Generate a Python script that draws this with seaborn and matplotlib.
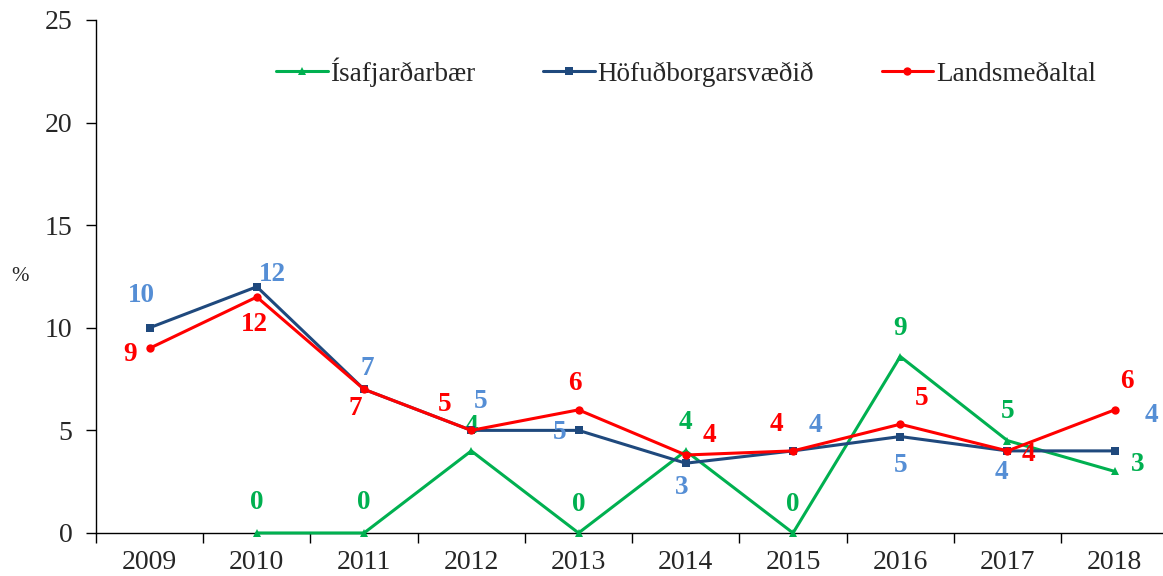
import numpy as np
import pandas as pd
import seaborn as sns
import matplotlib.pyplot as plt
from matplotlib.ticker import FixedLocator

# Gögn lesin af myndinni
years = ['2009', '2010', '2011', '2012', '2013', '2014', '2015', '2016', '2017', '2018']
isafjordur = [np.nan, 0, 0, 4.0, 0, 4.0, 0, 8.6, 4.5, 3.0]
hofudborg = [10.0, 12.0, 7.0, 5.0, 5.0, 3.4, 4.0, 4.7, 4.0, 4.0]
landsmedaltal = [9.0, 11.5, 7.0, 5.0, 6.0, 3.8, 4.0, 5.3, 4.0, 6.0]

isaf_labels = ['', '0', '0', '4', '0', '4', '0', '9', '5', '3']
hofud_labels = ['10', '12', '7', '5', '5', '3', '4', '5', '4', '4']
lands_labels = ['9', '12', '7', '5', '6', '4', '4', '5', '4', '6']

# hliðrun merkimiða í dílum (x, y upp)
isaf_off = [(0, 0), (0, 30), (0, 30), (0, 24), (0, 28), (0, 28), (0, 28), (0, 28), (0, 29), (23, 7)]
hofud_off = [(-8, 32), (16, 12), (3, 21), (9, 29), (-19, -2), (-4, -24), (22, 25), (0, -29), (-6, -22), (37, 35)]
lands_off = [(-20, -6), (-2, -28), (-9, -19), (-27, 26), (-4, 26), (24, 19), (-17, 26), (21, 26), (21, -4), (12, 28)]

sns.set_style("white")
plt.rcParams['font.family'] = ['Liberation Serif', 'DejaVu Serif']

fig = plt.figure(figsize=(11.63, 5.76), dpi=100)
ax = fig.add_axes([0.0825, 0.0747, 0.9175, 0.8906])

x = np.arange(len(years))
series = [
    ('Ísafjarðarbær', isafjordur, '#00B050', '^', isaf_labels, isaf_off, '#00B050'),
    ('Höfuðborgarsvæðið', hofudborg, '#1F497D', 's', hofud_labels, hofud_off, '#558ED5'),
    ('Landsmeðaltal', landsmedaltal, '#FF0000', 'o', lands_labels, lands_off, '#FF0000'),
]

for name, vals, col, mk, labs, offs, lcol in series:
    df = pd.DataFrame({'x': x, 'y': vals})
    sns.lineplot(data=df, x='x', y='y', ax=ax, color=col, marker=mk, markersize=6,
                 markeredgewidth=0, linewidth=2.2, label=name, clip_on=False, zorder=3)
    for xi, v, t, o in zip(x, vals, labs, offs):
        if t == '':
            continue
        ax.annotate(t, (xi, v), xytext=o, textcoords='offset pixels', ha='center', va='center',
                    color=lcol, fontsize=19.5, fontweight='bold')

ax.set_xlim(-0.5, 9.45)
ax.set_ylim(0, 25)
ax.set_yticks([0, 5, 10, 15, 20, 25])
ax.set_xticks(x)
ax.set_xticklabels(years)
ax.xaxis.set_minor_locator(FixedLocator(np.arange(-0.5, 9.6, 1)))
ax.tick_params(axis='x', which='major', length=0, pad=12, labelsize=20)
ax.tick_params(axis='x', which='minor', length=7, width=1, color='black', direction='out', bottom=True)
ax.tick_params(axis='y', length=7, width=1, color='black', direction='out', left=True, labelsize=20, pad=10)
ax.set_xlabel('')
ax.set_ylabel('%', fontsize=15, rotation=0, va='center')
ax.yaxis.set_label_coords(-0.071, 0.499)

for s in ['top', 'right']:
    ax.spines[s].set_visible(False)
for s in ['left', 'bottom']:
    ax.spines[s].set_color('black')
    ax.spines[s].set_linewidth(1)

ax.legend(loc='center', bbox_to_anchor=(0.553, 0.899), ncol=3, frameon=False, fontsize=19.5,
          handlelength=1.9, handletextpad=0.1, columnspacing=2.5, markerscale=1)

fig.savefig('out.png', dpi=100)
